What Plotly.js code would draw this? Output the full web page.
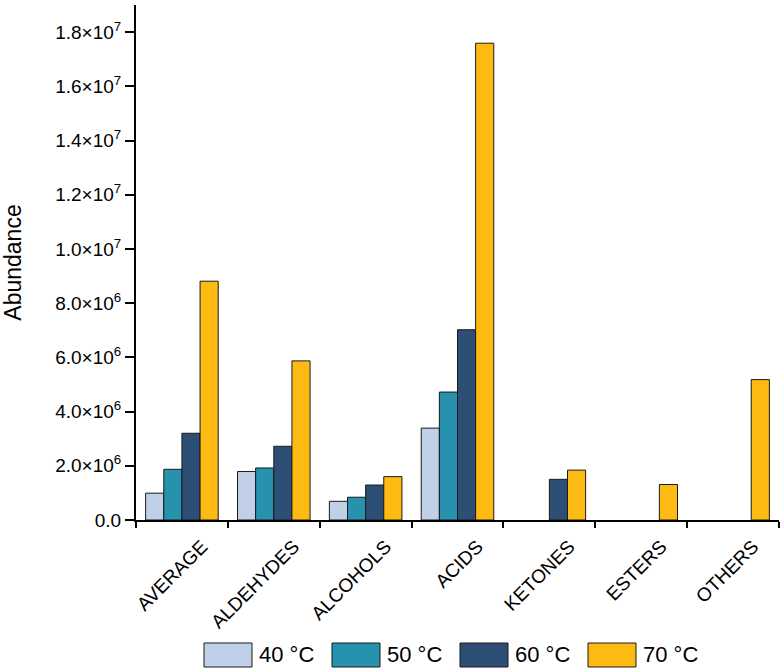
<!DOCTYPE html>
<html>
<head>
<meta charset="utf-8">
<script src="https://cdn.plot.ly/plotly-3.0.1.min.js"></script>
<style>html,body{margin:0;padding:0;background:#fff;}#chart{width:780px;height:671px;}</style>
</head>
<body>
<div id="chart"></div>
<script>
// ---- data ----
const categories = ["AVERAGE", "ALDEHYDES", "ALCOHOLS", "ACIDS", "KETONES", "ESTERS", "OTHERS"];
const seriesNames = ["40 °C", "50 °C", "60 °C", "70 °C"];
const values40 = [0.99e6, 1.79e6, 0.69e6, 3.39e6, null, null, null];
const values50 = [1.87e6, 1.92e6, 0.84e6, 4.72e6, null, null, null];
const values60 = [3.20e6, 2.72e6, 1.29e6, 7.02e6, 1.50e6, null, null];
const values70 = [8.81e6, 5.87e6, 1.60e6, 17.59e6, 1.84e6, 1.31e6, 5.18e6];
const yTickVals = [0, 2e6, 4e6, 6e6, 8e6, 1e7, 1.2e7, 1.4e7, 1.6e7, 1.8e7];
const yTickText = ["0.0", "2.0×10<sup>6</sup>", "4.0×10<sup>6</sup>", "6.0×10<sup>6</sup>", "8.0×10<sup>6</sup>",
  "1.0×10<sup>7</sup>", "1.2×10<sup>7</sup>", "1.4×10<sup>7</sup>", "1.6×10<sup>7</sup>", "1.8×10<sup>7</sup>"];

// ---- style ----
const colors = ["#BFD0E8", "#2792AD", "#2D4E75", "#FDBA12"];
const allValues = [values40, values50, values60, values70];
const FONT = "Liberation Sans, Arial, sans-serif";

const traces = allValues.map((vals, i) => ({
  type: "bar",
  name: seriesNames[i],
  x: categories,
  y: vals,
  marker: { color: colors[i], line: { color: "#1a1a1a", width: 1 } },
  showlegend: false,
  hoverinfo: "x+y+name"
}));

// plot area geometry in pixels (for legend placement)
const L = 136, R = 1, T = 5, B = 151, W = 780, H = 671;
const pw = W - L - R, ph = H - T - B;
const px2x = p => (p - L) / pw;
const py2y = p => (H - B - p) / ph;

const shapes = [], annotations = [];
const itemStart = 204, itemPitch = 128, swW = 48, swTop = 643, swBot = 667;
seriesNames.forEach((n, i) => {
  const x0 = itemStart + i * itemPitch;
  shapes.push({
    type: "rect", xref: "paper", yref: "paper",
    x0: px2x(x0), x1: px2x(x0 + swW), y0: py2y(swBot), y1: py2y(swTop),
    fillcolor: colors[i], line: { color: "#1a1a1a", width: 1 }
  });
  annotations.push({
    xref: "paper", yref: "paper", x: px2x(x0 + swW + 5), y: py2y((swTop + swBot) / 2),
    xanchor: "left", yanchor: "middle", text: n, showarrow: false,
    font: { family: FONT, size: 22, color: "#000" }
  });
});

const layout = {
  width: W, height: H,
  margin: { l: L, r: R, t: T, b: B, pad: 0 },
  paper_bgcolor: "#fff", plot_bgcolor: "#fff",
  barmode: "group", bargap: 0.21, bargroupgap: 0,
  showlegend: false,
  font: { family: FONT, color: "#000" },
  xaxis: {
    type: "category",
    showline: true, linecolor: "#000", linewidth: 2,
    ticks: "outside", tickson: "boundaries", ticklen: 6, tickwidth: 2, tickcolor: "#000",
    tickangle: -45, tickfont: { family: FONT, size: 19, color: "#000" },
    ticklabelshift: 20, ticklabelstandoff: 6,
    showgrid: false, zeroline: false, fixedrange: true
  },
  yaxis: {
    range: [0, 1.9e7],
    tickvals: yTickVals, ticktext: yTickText,
    showline: true, linecolor: "#000", linewidth: 2,
    ticks: "outside", ticklen: 9, tickwidth: 2, tickcolor: "#000",
    tickfont: { family: FONT, size: 19, color: "#000" },
    showgrid: false, zeroline: false,
    title: { text: "Abundance", font: { family: FONT, size: 23, color: "#000" }, standoff: 28 },
    fixedrange: true
  },
  shapes: shapes,
  annotations: annotations
};

Plotly.newPlot("chart", traces, layout, { displayModeBar: false, staticPlot: true });
</script>
</body>
</html>
